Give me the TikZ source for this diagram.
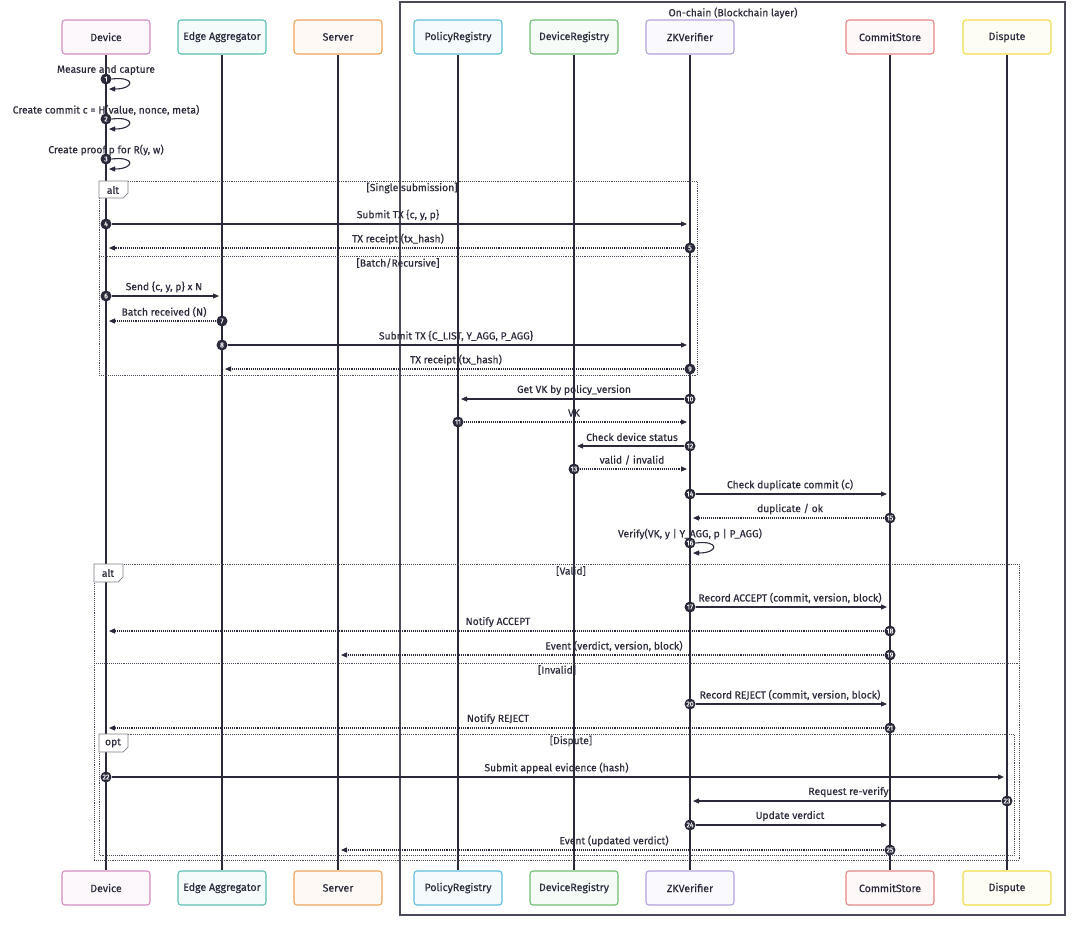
\documentclass[tikz,border=0pt]{standalone}
\usepackage{fontspec}
\setmainfont{Fira Sans}[FakeBold=0.3]
\usetikzlibrary{arrows.meta}

\definecolor{ink}{HTML}{2A2A3C}
\definecolor{devc}{HTML}{D58CC4}
\definecolor{edgec}{HTML}{5BBFB5}
\definecolor{serverc}{HTML}{EFA35A}
\definecolor{policyc}{HTML}{5BBEDF}
\definecolor{regc}{HTML}{6FBF73}
\definecolor{zkc}{HTML}{B3A2D9}
\definecolor{commitc}{HTML}{E98585}
\definecolor{disputec}{HTML}{F2DB4B}

\begin{document}
\begin{tikzpicture}[
  x=1pt, y=-1pt,
  >={Triangle[length=6pt,width=5pt]},
  actor/.style={draw, rounded corners=3pt, line width=1.1pt, minimum width=88pt,
    minimum height=34pt, font=\fontsize{10.6}{12}\selectfont, text=ink},
  life/.style={line width=1.4pt, ink},
  msg/.style={->, line width=1.1pt, ink, shorten >=3pt},
  reply/.style={msg, densely dotted},
  num/.style={circle, fill=ink, text=white, inner sep=0pt, minimum size=11pt,
    font=\fontsize{7}{7}\selectfont},
  lbl/.style={font=\fontsize{10.3}{12}\selectfont, text=ink, inner sep=1pt},
  frame/.style={densely dotted, line width=0.9pt, ink!85},
  tab/.style={draw=ink!60, fill=white, line width=0.7pt},
  every node/.style={text=ink}
]
  \useasboundingbox (0,0) rectangle (1085,935);

  % blockchain group
  \draw[line width=1.1pt, ink!85] (400,2) rectangle (1065,915);
  \node[lbl] (chain) at (733,13) {On-chain (Blockchain layer)};

  % participants, top and bottom, with lifelines
  \foreach \n/\x/\t/\c in {dev/106/Device/devc, edge/222/Edge Aggregator/edgec,
      srv/338/Server/serverc, pol/458/PolicyRegistry/policyc,
      reg/574/DeviceRegistry/regc, zk/690/ZKVerifier/zkc,
      com/890/CommitStore/commitc, dsp/1007/Dispute/disputec} {
    \node[actor, draw=\c, fill=\c!6] (\n-top) at (\x,37) {\t};
    \node[actor, draw=\c, fill=\c!6] (\n-bot) at (\x,888) {\t};
    \draw[life] (\n-top) -- (\n-bot);
  }

  % alt: single / batch
  \draw[frame] (99,181) rectangle (697,375);
  \draw[frame] (99,256) -- (697,256);
  \draw[tab] (99,181) -- (128,181) -- (128,193) -- (123,198) -- (99,198) -- cycle;
  \node[lbl] (alt1) at (113,190) {alt};
  \node[lbl] (single) at (412,188) {[Single submission]};
  \node[lbl] (batch) at (398,263) {[Batch/Recursive]};

  % alt: valid / invalid, with opt inside
  \draw[frame] (94,564) rectangle (1019,860);
  \draw[frame] (94,663) -- (1019,663);
  \draw[tab] (94,564) -- (123,564) -- (123,577) -- (118,582) -- (94,582) -- cycle;
  \node[lbl] (alt2) at (108,573) {alt};
  \node[lbl] (valid) at (571,571) {[Valid]};
  \node[lbl] (invalid) at (557,670) {[Invalid]};
  \draw[frame] (99,734) rectangle (1014,855);
  \draw[tab] (99,734) -- (128,734) -- (128,747) -- (123,752) -- (99,752) -- cycle;
  \node[lbl] (opt) at (113,743) {opt};
  \node[lbl] (dispute) at (571,741) {[Dispute]};

  % self messages
  \foreach \n/\x/\y/\t in {1/106/79/Measure and capture,
      2/106/119/{Create commit c = H(value, nonce, meta)},
      3/106/159/{Create proof p for R(y, w)},
      16/690/543/{Verify(VK, y | Y\_AGG, p | P\_AGG)}} {
    \node[lbl] (l\n) at (\x,\y-9) {\t};
    \node[num] (n\n) at (\x,\y) {\n};
    \coordinate (s\n) at (\x+3,\y+10);
    \draw[msg, shorten >=0pt] (n\n.east) .. controls +(24,-3) and +(26,0) .. (s\n);
  }

  % calls
  \foreach \n/\xa/\xb/\y/\t in {4/106/690/224/{Submit TX \{c, y, p\}},
      6/106/222/296/{Send \{c, y, p\} x N},
      8/222/690/345/{Submit TX \{C\_LIST, Y\_AGG, P\_AGG\}},
      10/690/458/399/{Get VK by policy\_version},
      12/690/574/446/{Check device status},
      14/690/890/494/{Check duplicate commit (c)},
      17/690/890/607/{Record ACCEPT (commit, version, block)},
      20/690/890/704/{Record REJECT (commit, version, block)},
      22/106/1007/777/{Submit appeal evidence (hash)},
      23/1007/690/801/{Request re-verify},
      24/690/890/825/{Update verdict}} {
    \node[num] (n\n) at (\xa,\y) {\n};
    \coordinate (t\n) at (\xb,\y);
    \draw[msg] (n\n) -- (t\n);
    \node[lbl] (l\n) at ({(\xa+\xb)/2},\y-9) {\t};
  }

  % replies
  \foreach \n/\xa/\xb/\y/\t in {5/690/106/248/{TX receipt (tx\_hash)},
      7/222/106/321/{Batch received (N)},
      9/690/222/369/{TX receipt (tx\_hash)},
      11/458/690/422/VK,
      13/574/690/469/{valid / invalid},
      15/890/690/518/{duplicate / ok},
      18/890/106/631/{Notify ACCEPT},
      19/890/338/655/{Event (verdict, version, block)},
      21/890/106/728/{Notify REJECT},
      25/890/338/850/{Event (updated verdict)}} {
    \node[num] (n\n) at (\xa,\y) {\n};
    \coordinate (t\n) at (\xb,\y);
    \draw[reply] (n\n) -- (t\n);
    \node[lbl] (l\n) at ({(\xa+\xb)/2},\y-9) {\t};
  }
\end{tikzpicture}
\end{document}
